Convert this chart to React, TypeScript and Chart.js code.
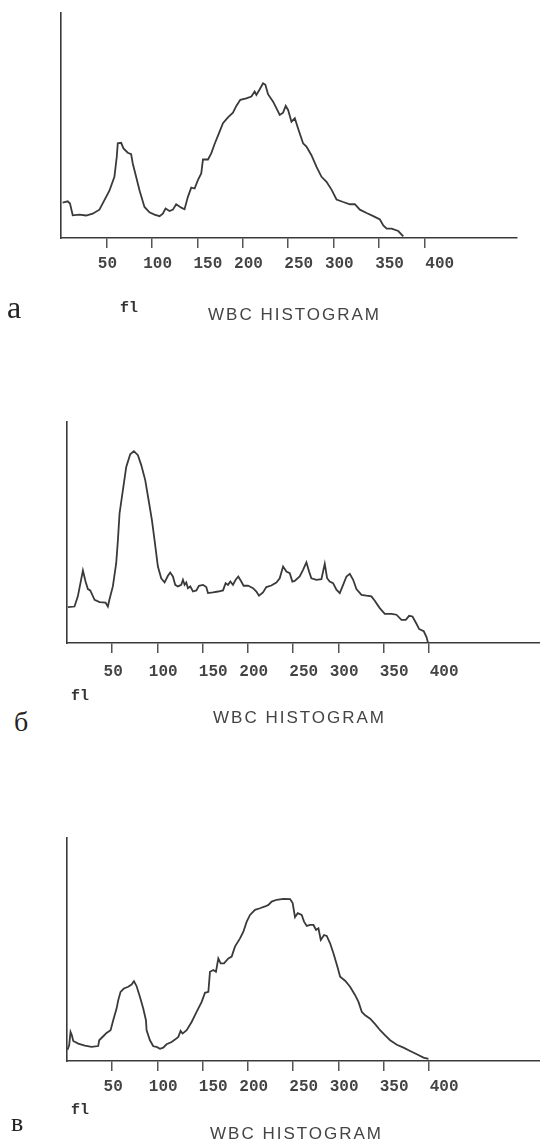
import React, { useEffect, useRef } from "react";
import Chart from "chart.js/auto";

// ---------- DATA ----------
// Panel "а"
const flA = [1.8, 7.4, 9.9, 12.9, 20.2, 27.6, 34.9, 42.3, 47.8, 53.3, 58.8, 61.4, 62.5, 66.2, 68.8, 73.5, 77.2, 79.0, 82.7, 86.4, 91.9, 97.4, 102.9, 108.5, 112.1, 115.1, 119.5, 123.2, 126.8, 132.4, 136.0, 139.7, 143.4, 147.1, 150.7, 154.4, 156.3, 161.8, 165.4, 169.1, 174.6, 178.3, 183.8, 189.3, 193.0, 197.4, 204.0, 209.6, 213.2, 215.1, 218.8, 222.4, 225.0, 227.9, 233.5, 237.1, 240.8, 244.5, 247.4, 250.0, 253.7, 257.4, 261.0, 266.5, 270.2, 275.7, 281.3, 286.8, 292.3, 297.8, 303.3, 310.7, 318.0, 323.5, 329.0, 336.4, 343.8, 351.1, 354.8, 358.5, 364.0, 371.3, 376.8];
const countA = [15.7, 16.3, 15.3, 10.1, 10.4, 10.0, 10.8, 12.6, 16.8, 21.0, 27.2, 36.1, 42.1, 42.3, 39.8, 37.9, 37.3, 33.1, 27.2, 21.2, 13.8, 11.4, 10.4, 9.7, 10.8, 13.1, 12.0, 12.6, 15.0, 13.5, 12.8, 18.3, 22.4, 22.0, 25.7, 28.7, 34.9, 34.9, 37.6, 41.8, 47.3, 51.0, 53.6, 55.7, 58.7, 61.4, 62.1, 62.9, 65.1, 63.6, 66.1, 68.8, 68.1, 63.9, 60.6, 57.7, 54.7, 55.7, 58.7, 56.9, 51.7, 53.2, 48.7, 42.1, 40.6, 36.8, 31.6, 27.2, 25.0, 21.5, 17.1, 16.0, 15.0, 15.0, 12.6, 11.1, 9.7, 8.2, 5.6, 4.2, 4.2, 3.1, 0.7];

// Panel "б"
const flB = [1.0, 8.3, 12.0, 17.6, 20.5, 23.1, 25.7, 30.5, 36.0, 42.6, 45.2, 47.0, 50.7, 54.4, 56.3, 58.1, 61.8, 65.5, 69.9, 74.0, 78.4, 82.1, 86.5, 90.2, 93.9, 96.8, 100.5, 104.2, 107.9, 111.6, 114.1, 117.1, 119.7, 122.6, 126.3, 128.2, 130.0, 131.9, 133.7, 136.3, 139.3, 143.0, 145.9, 150.4, 154.0, 155.9, 161.4, 167.0, 172.5, 175.4, 178.0, 180.6, 183.5, 186.5, 189.4, 192.7, 195.3, 200.1, 205.7, 209.4, 212.3, 216.7, 220.4, 225.9, 231.5, 235.2, 238.9, 242.6, 246.3, 249.2, 251.8, 257.3, 261.0, 264.7, 267.7, 270.2, 275.8, 281.3, 285.0, 287.6, 290.5, 294.2, 297.9, 301.6, 305.3, 309.0, 312.7, 316.4, 320.0, 325.6, 331.1, 336.6, 340.3, 345.8, 351.4, 358.8, 364.3, 369.8, 374.6, 378.3, 382.0, 386.4, 389.4, 394.5, 397.5, 399.3];
const countB = [16.2, 16.5, 21.1, 32.8, 27.8, 24.4, 23.8, 19.5, 18.5, 18.3, 16.5, 19.8, 25.6, 36.1, 46.6, 58.6, 69.2, 79.7, 85.4, 86.8, 85.0, 80.5, 73.7, 64.7, 55.6, 46.6, 34.6, 29.3, 27.4, 30.4, 31.9, 30.1, 26.3, 25.6, 26.3, 28.6, 26.3, 27.4, 24.8, 25.6, 23.3, 23.8, 25.9, 26.3, 25.3, 22.6, 22.9, 23.3, 23.8, 27.1, 26.3, 27.8, 26.3, 28.6, 30.1, 27.8, 25.9, 26.0, 24.8, 23.3, 21.4, 22.9, 25.3, 26.0, 27.4, 29.3, 34.6, 32.3, 31.6, 27.8, 28.1, 30.1, 33.1, 36.5, 32.3, 29.3, 28.6, 28.9, 35.8, 29.3, 27.8, 27.1, 24.1, 22.6, 26.3, 30.1, 31.3, 28.6, 24.4, 21.8, 21.4, 21.1, 19.1, 15.8, 13.2, 13.2, 12.8, 10.5, 10.5, 12.3, 12.0, 8.7, 6.3, 5.3, 2.7, 0];

// Panel "в"
const flC = [0.6, 2.4, 3.9, 5.4, 6.9, 12.4, 19.8, 27.1, 34.5, 35.6, 40.1, 43.7, 48.2, 51.1, 54.8, 56.7, 59.2, 62.9, 67.7, 71.4, 74.0, 76.9, 80.6, 84.3, 87.3, 88.0, 91.7, 95.4, 99.1, 102.8, 106.4, 110.1, 115.7, 119.4, 123.1, 125.6, 127.8, 132.3, 137.8, 143.3, 148.9, 152.6, 156.3, 158.1, 161.8, 164.7, 167.3, 169.9, 173.6, 178.4, 182.1, 185.7, 191.3, 195.0, 198.7, 202.4, 207.9, 213.4, 219.0, 222.7, 226.3, 231.9, 239.3, 246.7, 249.5, 252.1, 255.1, 259.5, 262.1, 265.1, 268.8, 272.5, 275.4, 278.0, 280.6, 284.2, 287.2, 290.9, 294.6, 299.0, 302.0, 307.5, 313.0, 318.6, 322.3, 326.0, 329.7, 335.2, 340.7, 346.2, 351.8, 357.3, 364.7, 372.1, 379.4, 386.8, 394.2, 399.7];
const countC = [5.1, 7.0, 13.0, 11.5, 9.0, 7.8, 6.9, 6.3, 6.7, 9.3, 11.1, 12.6, 13.8, 18.3, 23.5, 27.3, 31.0, 32.5, 33.3, 34.3, 35.8, 33.6, 28.8, 23.5, 18.3, 13.8, 9.3, 6.6, 6.3, 5.5, 6.0, 7.5, 8.5, 9.6, 10.8, 13.5, 12.3, 13.8, 17.5, 22.0, 26.5, 30.6, 31.0, 40.0, 40.8, 40.0, 46.0, 43.8, 43.8, 46.0, 46.8, 51.3, 55.0, 58.0, 62.5, 65.5, 67.8, 68.5, 69.3, 70.0, 71.5, 72.3, 72.7, 72.6, 70.8, 64.5, 66.3, 65.5, 62.5, 60.6, 61.0, 61.0, 58.8, 59.5, 54.3, 56.5, 56.1, 52.8, 48.3, 42.3, 37.8, 36.0, 33.3, 29.5, 26.5, 22.0, 20.5, 19.0, 16.5, 13.8, 11.5, 9.3, 7.3, 6.0, 4.5, 3.0, 1.5, 1.0];

const xTickValues = [50, 100, 150, 200, 250, 300, 350, 400];
const xTickLabels = ["50", "100", "150", "200", "250", "300", "350", "400"];
const titleText = "WBC HISTOGRAM";
const unitText = "fl";
const panelLetters = ["а", "б", "в"];

// ---------- RENDERING ----------
const LABEL_INDENT = [0, 1, 2, 1, 2, 1, 2, 3];
const INK = "#3a3a3a";

type PanelProps = {
  fl: number[];
  counts: number[];
  top: number;
  height: number;
  padLeft: number;
  padRight: number;
  xMax: number;
  labelPad: number;
};

function Histogram({ fl, counts, top, height, padLeft, padRight, xMax, labelPad }: PanelProps) {
  const ref = useRef<HTMLCanvasElement | null>(null);
  useEffect(() => {
    if (!ref.current) return;
    const chart = new Chart(ref.current, {
      type: "line",
      data: {
        datasets: [
          {
            data: fl.map((x, i) => ({ x, y: counts[i] })),
            borderColor: INK,
            borderWidth: 1.8,
            pointRadius: 0,
            tension: 0,
            fill: false,
          },
        ],
      },
      options: {
        animation: false,
        responsive: true,
        maintainAspectRatio: false,
        events: [],
        layout: { padding: { left: padLeft, right: padRight, top: 10, bottom: 0 } },
        plugins: { legend: { display: false }, tooltip: { enabled: false }, title: { display: false } },
        scales: {
          x: {
            type: "linear",
            min: 0,
            max: xMax,
            afterBuildTicks: (scale: any) => {
              scale.ticks = xTickValues.map((v) => ({ value: v }));
            },
            afterFit: (scale: any) => {
              scale.height = 52;
            },
            ticks: {
              autoSkip: false,
              maxRotation: 0,
              padding: labelPad,
              labelOffset: 1,
              color: "#444",
              font: { family: "'Liberation Mono', 'DejaVu Sans Mono', monospace", size: 16, weight: "bold" },
              callback: (value: any) => {
                const i = xTickValues.indexOf(Number(value));
                if (i < 0) return "";
                return " ".repeat(LABEL_INDENT[i]) + xTickLabels[i];
              },
            },
            grid: {
              display: true,
              drawOnChartArea: false,
              drawTicks: true,
              tickLength: 10,
              color: "#555",
              lineWidth: 1.5,
            },
            border: { display: true, color: INK, width: 1.6 },
          },
          y: {
            min: 0,
            max: 100,
            afterFit: (scale: any) => {
              scale.width = 0;
            },
            ticks: { display: false },
            grid: { display: false, drawTicks: false },
            border: { display: true, color: INK, width: 1.6 },
          },
        },
      } as any,
    });
    return () => chart.destroy();
  }, [fl, counts, padLeft, padRight, xMax, labelPad]);

  return (
    <div style={{ position: "absolute", left: 0, top, width: 540, height }}>
      <canvas ref={ref} />
    </div>
  );
}

const serif = "'Liberation Serif', 'Times New Roman', serif";
const mono = "'Liberation Mono', 'Courier New', monospace";
const sans = "'Liberation Sans', Arial, sans-serif";

function Text({ children, left, top, font, size, weight, spacing, color }: any) {
  return (
    <div
      style={{
        position: "absolute",
        left,
        top,
        fontFamily: font,
        fontSize: size,
        fontWeight: weight || "normal",
        lineHeight: 1,
        letterSpacing: spacing || 0,
        color: color || "#222",
        whiteSpace: "nowrap",
      }}
    >
      {children}
    </div>
  );
}

export default function App() {
  return (
    <div style={{ position: "absolute", left: 0, top: 0, width: 540, height: 1142, background: "#fff", overflow: "hidden" }}>
      <Histogram fl={flA} counts={countA} top={3} height={287} padLeft={61} padRight={23} xMax={502} labelPad={6} />
      <Histogram fl={flB} counts={countB} top={412} height={283} padLeft={67} padRight={0} xMax={523} labelPad={9} />
      <Histogram fl={flC} counts={countC} top={828} height={285} padLeft={67} padRight={0} xMax={523} labelPad={6} />

      <Text left={7} top={291} font={serif} size={32}>{panelLetters[0]}</Text>
      <Text left={120} top={301} font={mono} size={15} weight="bold" color="#333">{unitText}</Text>
      <Text left={208} top={306} font={sans} size={17} spacing={2} color="#444">{titleText}</Text>

      <Text left={14} top={708} font={serif} size={28}>{panelLetters[1]}</Text>
      <Text left={71} top={689} font={mono} size={15} weight="bold" color="#333">{unitText}</Text>
      <Text left={213} top={709} font={sans} size={17} spacing={2} color="#444">{titleText}</Text>

      <Text left={11} top={1110} font={serif} size={26}>{panelLetters[2]}</Text>
      <Text left={71} top={1103} font={mono} size={15} weight="bold" color="#333">{unitText}</Text>
      <Text left={210} top={1125} font={sans} size={17} spacing={2} color="#444">{titleText}</Text>
    </div>
  );
}
